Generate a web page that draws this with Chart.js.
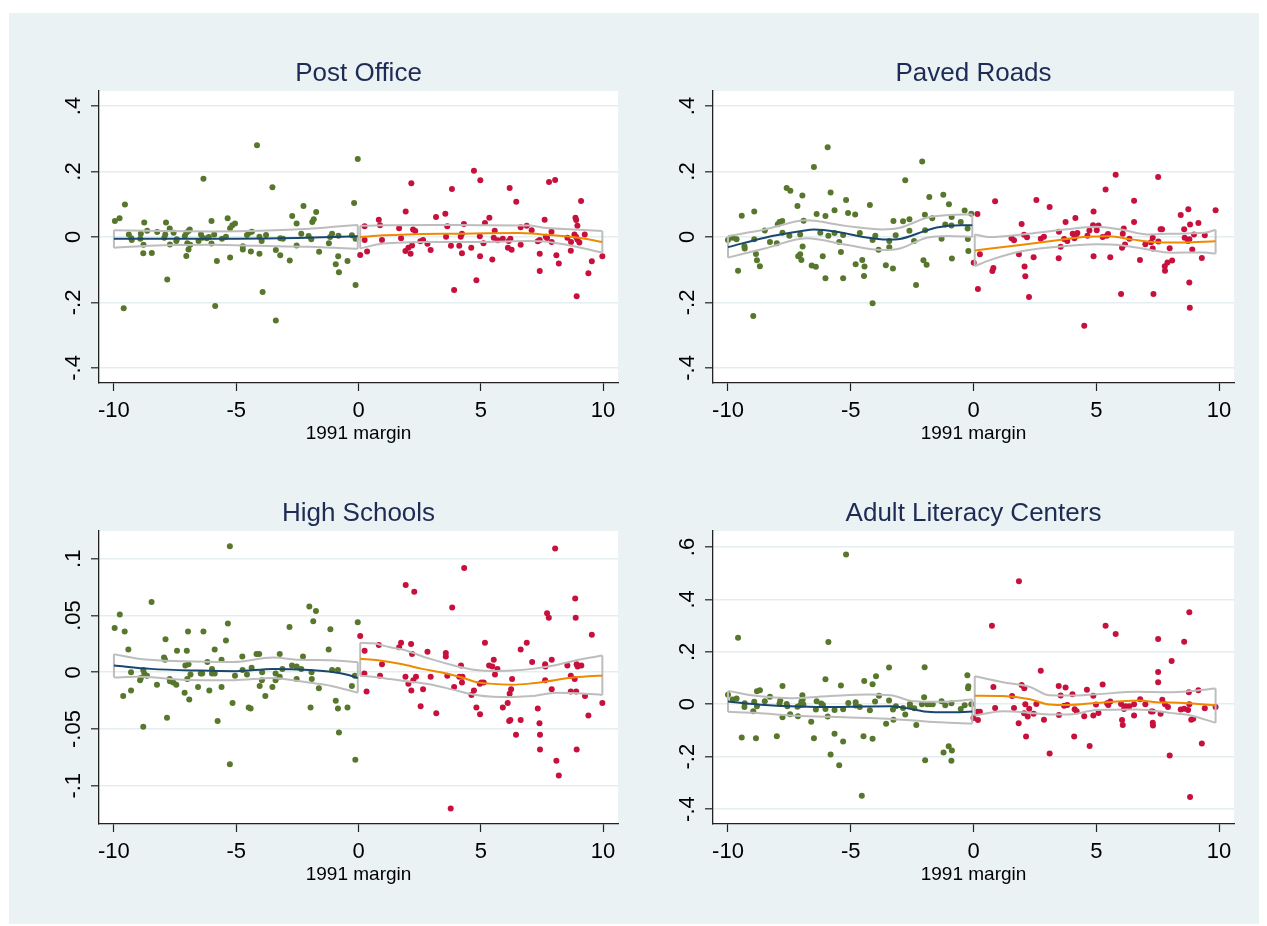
<!DOCTYPE html>
<html>
<head>
<meta charset="utf-8">
<script src="https://cdn.jsdelivr.net/npm/chart.js@4"></script>
<style>
  body { margin: 0; background: #fff; width: 1267px; height: 926px; position: relative; overflow: hidden; }
  #bg { position: absolute; left: 9px; top: 13px; width: 1250px; height: 911px; background: #eaf2f3; }
  canvas { position: absolute; }
</style>
</head>
<body>
<div id="bg"></div>
<canvas id="c1" width="620" height="420" style="left:20px;top:40px"></canvas>
<canvas id="c2" width="620" height="420" style="left:634px;top:40px"></canvas>
<canvas id="c3" width="620" height="420" style="left:20px;top:480px"></canvas>
<canvas id="c4" width="620" height="420" style="left:634px;top:480px"></canvas>
<script>
// x ticks shared by all panels
const xTicks = [-10, -5, 0, 5, 10];

// ---- Post Office ----
const postLeft = [[-9.96,0.049],[-9.77,0.057],[-9.55,0.099],[-9.6,-0.218],[-9.39,0.008],[-9.29,-0.004],[-9.27,-0.009],[-8.9,0.010],[-8.92,-0.005],[-8.79,-0.024],[-8.76,0.044],[-8.8,-0.05],[-8.64,0.019],[-8.45,-0.049],[-8.23,0.015],[-7.94,-0.002],[-7.87,0.044],[-7.9,0.008],[-7.72,0.026],[-7.82,-0.13],[-7.71,-0.023],[-7.56,0.013],[-7.43,-0.007],[-7.45,-0.012],[-7.1,0.003],[-7.04,0.013],[-6.95,0.018],[-6.9,0.023],[-7.0,-0.019],[-6.88,-0.024],[-6.95,-0.038],[-7.04,-0.058],[-6.54,-0.012],[-6.44,0.008],[-6.38,-0.002],[-6.34,0.178],[-6.2,-0.004],[-6.12,0.0],[-6.01,0.049],[-6.01,-0.02],[-5.9,0.008],[-5.79,-0.073],[-5.86,-0.211],[-5.58,-0.005],[-5.42,0.001],[-5.35,0.057],[-5.25,0.027],[-5.16,0.036],[-5.05,0.041],[-5.25,-0.063],[-4.73,-0.028],[-4.73,-0.038],[-4.56,0.006],[-4.46,0.013],[-4.36,0.016],[-4.4,-0.044],[-4.15,0.28],[-4.05,0.001],[-3.96,-0.012],[-4.05,-0.051],[-3.92,-0.168],[-3.78,0.006],[-3.52,0.152],[-3.38,-0.04],[-3.38,-0.255],[-3.2,-0.056],[-3.2,-0.004],[-3.09,-0.005],[-2.81,-0.072],[-2.71,0.064],[-2.53,0.041],[-2.53,-0.026],[-2.34,0.01],[-2.25,0.095],[-2.04,0.003],[-1.93,-0.007],[-1.89,0.046],[-1.83,0.054],[-1.73,0.076],[-1.61,-0.045],[-1.21,-0.019],[-1.16,0.0],[-1.08,0.01],[-0.82,0.004],[-0.83,-0.059],[-0.93,-0.083],[-0.8,-0.108],[-0.45,-0.073],[-0.27,0.005],[-0.18,0.104],[-0.12,-0.005],[-0.12,-0.147],[-0.03,0.238]];
const postRight = [[0.07,-0.055],[0.25,0.033],[0.25,-0.009],[0.35,-0.044],[0.83,0.053],[0.88,0.036],[0.96,-0.009],[1.66,0.027],[1.74,-0.004],[1.93,0.078],[1.92,-0.043],[2.04,-0.033],[2.13,-0.051],[2.19,-0.026],[2.16,0.164],[2.23,0.023],[2.32,0.018],[2.53,-0.013],[2.64,-0.009],[2.82,-0.021],[2.95,-0.04],[3.17,0.061],[3.55,0.071],[3.58,0.001],[3.63,0.033],[3.78,-0.027],[3.82,0.147],[3.91,-0.162],[4.12,-0.027],[4.18,0.001],[4.23,0.01],[4.23,-0.05],[4.31,0.04],[4.61,-0.033],[4.72,0.202],[4.82,-0.132],[4.96,0.002],[4.97,-0.059],[4.98,0.173],[5.11,-0.019],[5.17,0.043],[5.35,0.059],[5.47,-0.069],[5.53,-0.002],[5.57,0.019],[5.69,-0.01],[5.9,-0.005],[6.11,-0.033],[6.14,-0.012],[6.18,0.15],[6.21,-0.005],[6.26,-0.039],[6.45,0.108],[6.63,0.03],[6.63,-0.024],[6.88,0.034],[7.08,0.021],[7.33,-0.013],[7.41,-0.009],[7.41,-0.051],[7.41,-0.104],[7.61,0.053],[7.66,0.001],[7.71,-0.003],[7.79,0.168],[7.89,0.016],[7.9,-0.015],[8.04,0.174],[8.09,-0.056],[8.19,-0.081],[8.54,-0.002],[8.68,-0.042],[8.69,-0.015],[8.83,0.008],[8.87,0.059],[8.9,0.052],[8.95,0.034],[8.9,0.0],[8.95,-0.008],[9.03,-0.017],[8.92,-0.181],[9.1,0.11],[9.25,0.008],[9.4,-0.111],[9.54,-0.074],[9.97,-0.059]];
const postFitL = [[-10,-0.005],[-7.5,-0.005],[-5,-0.005],[-2.5,-0.003],[-1,0.0],[-0.03,0.002]];
const postFitR = [[0.07,0.0],[1,0.005],[2,0.008],[4,0.01],[6.5,0.012],[7.5,0.008],[9,-0.002],[9.97,-0.015]];
// band rows: [x, lower, upper]
const postBandL = [[-10,-0.033,0.021],[-8,-0.025,0.018],[-6,-0.024,0.017],[-4,-0.027,0.019],[-2,-0.030,0.025],[-1,-0.033,0.031],[-0.03,-0.036,0.037]];
const postBandR = [[0.07,-0.035,0.034],[1,-0.02,0.036],[3,-0.015,0.037],[5,-0.015,0.036],[7,-0.012,0.035],[7.5,-0.013,0.029],[8.8,-0.028,0.023],[9.97,-0.048,0.018]];

// ---- Paved Roads ----
const pavedLeft = [[-10.0,-0.009],[-9.81,-0.002],[-9.65,-0.007],[-9.59,-0.103],[-9.44,0.065],[-9.33,-0.028],[-9.32,-0.035],[-8.97,-0.241],[-8.93,0.078],[-8.93,-0.007],[-8.86,-0.052],[-8.82,-0.071],[-8.7,-0.089],[-8.5,0.02],[-8.29,-0.015],[-8.01,-0.019],[-7.97,0.039],[-7.9,0.046],[-7.79,0.049],[-7.78,0.013],[-7.61,0.15],[-7.46,0.141],[-7.5,0.004],[-7.17,0.095],[-7.14,-0.059],[-7.06,-0.053],[-7.01,-0.07],[-7.06,0.008],[-6.97,0.127],[-6.96,-0.029],[-6.92,0.05],[-6.59,-0.087],[-6.42,-0.091],[-6.5,0.214],[-6.39,0.07],[-6.24,0.013],[-6.14,-0.059],[-6.03,0.064],[-6.03,-0.126],[-5.94,0.274],[-5.91,0.004],[-5.82,0.136],[-5.66,0.082],[-5.66,0.012],[-5.47,-0.015],[-5.4,-0.046],[-5.31,-0.126],[-5.31,0.006],[-5.19,0.113],[-5.11,0.073],[-4.82,0.069],[-4.8,-0.083],[-4.63,0.012],[-4.53,-0.07],[-4.44,-0.09],[-4.46,-0.119],[-4.22,0.098],[-4.11,-0.202],[-4.11,-0.009],[-4.0,0.004],[-3.87,-0.039],[-3.57,-0.086],[-3.43,-0.012],[-3.43,-0.031],[-3.28,-0.096],[-3.26,0.049],[-3.17,0.005],[-2.87,0.048],[-2.78,0.173],[-2.61,0.054],[-2.61,0.019],[-2.42,-0.012],[-2.34,-0.147],[-2.09,0.231],[-2.04,-0.071],[-1.97,0.021],[-1.98,0.068],[-1.91,-0.085],[-1.8,0.122],[-1.68,0.057],[-1.3,-0.005],[-1.23,0.129],[-1.15,0.038],[-1.0,0.1],[-0.89,0.061],[-0.9,0.035],[-0.88,-0.066],[-0.52,0.046],[-0.36,0.081],[-0.24,0.026],[-0.23,-0.006],[-0.21,-0.043],[-0.09,0.071]];
const pavedRight = [[0.01,-0.079],[0.16,0.07],[0.18,-0.159],[0.26,-0.053],[0.77,-0.104],[0.81,-0.095],[0.88,0.109],[1.55,-0.004],[1.65,-0.01],[1.85,-0.053],[1.96,0.04],[2.06,0.007],[2.08,-0.09],[2.11,-0.12],[2.18,-0.001],[2.26,-0.183],[2.45,-0.062],[2.56,0.113],[2.74,-0.005],[2.87,0.001],[3.1,0.092],[3.47,-0.065],[3.48,0.016],[3.55,-0.03],[3.69,-0.006],[3.75,0.046],[3.82,-0.012],[4.04,0.01],[4.11,-0.004],[4.15,0.058],[4.17,0.005],[4.23,0.012],[4.51,-0.271],[4.64,0.004],[4.72,0.02],[4.87,0.036],[4.89,0.078],[4.89,-0.059],[5.02,0.021],[5.09,0.035],[5.26,0.0],[5.38,0.145],[5.43,0.004],[5.48,0.009],[5.57,-0.062],[5.79,0.19],[6.01,-0.174],[6.05,-0.033],[6.08,0.01],[6.12,0.026],[6.17,-0.023],[6.35,-0.005],[6.54,0.046],[6.54,0.111],[6.78,-0.07],[7.0,-0.022],[7.23,-0.016],[7.3,-0.002],[7.3,-0.035],[7.33,-0.174],[7.52,0.183],[7.53,-0.014],[7.62,0.024],[7.68,0.024],[7.79,-0.089],[7.8,-0.103],[7.9,-0.078],[7.99,-0.034],[8.09,-0.072],[8.44,0.067],[8.58,0.024],[8.6,-0.002],[8.74,-0.012],[8.75,0.085],[8.79,-0.139],[8.81,-0.216],[8.82,0.038],[8.79,-0.007],[8.91,-0.038],[8.98,0.008],[9.16,0.043],[9.3,-0.064],[9.42,0.005],[9.86,0.082]];
const pavedFitL = [[-10,-0.031],[-8.5,-0.002],[-7,0.018],[-6.5,0.023],[-5.5,0.015],[-4.5,0.0],[-3.5,-0.008],[-3,-0.006],[-2,0.018],[-1.5,0.029],[-0.5,0.036],[-0.05,0.036]];
const pavedFitR = [[0.05,-0.041],[2,-0.024],[3.5,-0.009],[4.5,0.0],[5.5,0.002],[6.5,-0.008],[7.5,-0.016],[8.5,-0.017],[9.86,-0.013]];
const pavedBandL = [[-10,-0.063,0.003],[-8.5,-0.035,0.023],[-6.8,-0.004,0.051],[-5.2,-0.024,0.034],[-3.7,-0.04,0.023],[-3.0,-0.035,0.028],[-1.9,-0.002,0.059],[-1.0,0.003,0.067],[-0.05,0.0,0.069]];
const pavedBandR = [[0.05,-0.089,0.008],[0.7,-0.07,0.0],[2,-0.043,0.008],[3.7,-0.028,0.023],[5,-0.022,0.031],[6,-0.025,0.023],[7.1,-0.038,0.008],[8,-0.048,0.01],[9.4,-0.047,0.013],[9.86,-0.051,0.022]];

// ---- High Schools ----
const hsLeft = [[-9.97,0.039],[-9.76,0.051],[-9.56,0.036],[-9.62,-0.021],[-9.41,0.02],[-9.3,-0.016],[-9.3,0.0],[-8.93,-0.007],[-8.9,-0.005],[-8.8,-0.048],[-8.8,0.002],[-8.76,-0.001],[-8.65,-0.003],[-8.46,0.062],[-8.24,-0.011],[-7.95,0.013],[-7.91,0.011],[-7.89,0.029],[-7.83,-0.04],[-7.72,-0.006],[-7.71,-0.008],[-7.57,-0.009],[-7.45,-0.011],[-7.42,0.019],[-7.11,-0.018],[-7.08,0.006],[-7.02,0.019],[-7.0,-0.006],[-6.97,0.036],[-6.95,0.007],[-6.92,-0.024],[-6.87,-0.002],[-6.56,-0.013],[-6.45,-0.001],[-6.39,-0.001],[-6.34,0.036],[-6.18,0.009],[-6.1,-0.016],[-5.99,0.003],[-5.99,-0.001],[-5.88,0.02],[-5.88,-0.001],[-5.76,-0.043],[-5.6,0.011],[-5.6,-0.013],[-5.42,0.028],[-5.34,0.043],[-5.26,0.111],[-5.26,-0.081],[-5.15,-0.027],[-5.05,-0.003],[-4.75,0.014],[-4.74,0.002],[-4.56,-0.002],[-4.49,-0.031],[-4.41,-0.032],[-4.37,0.004],[-4.17,0.016],[-4.06,0.016],[-3.94,0.0],[-3.95,-0.007],[-4.04,-0.012],[-3.81,-0.021],[-3.52,-0.013],[-3.39,-0.001],[-3.39,-0.007],[-3.22,0.016],[-3.22,-0.004],[-3.11,0.003],[-2.82,0.04],[-2.72,0.006],[-2.53,0.005],[-2.53,-0.006],[-2.34,0.003],[-2.27,0.014],[-2.01,0.058],[-1.96,-0.031],[-1.92,0.0],[-1.91,-0.006],[-1.85,0.045],[-1.74,0.054],[-1.62,-0.014],[-1.22,0.02],[-1.15,0.038],[-1.08,0.002],[-0.93,-0.025],[-0.84,0.002],[-0.84,-0.032],[-0.8,-0.053],[-0.45,-0.031],[-0.27,-0.012],[-0.15,-0.003],[-0.13,-0.077],[-0.03,0.044]];
const hsRight = [[0.07,0.032],[0.25,0.019],[0.24,-0.001],[0.33,-0.017],[0.83,0.024],[0.88,-0.003],[0.96,0.007],[1.66,0.022],[1.74,0.026],[1.93,0.077],[1.92,-0.004],[2.04,-0.01],[2.15,0.025],[2.19,0.016],[2.16,-0.016],[2.24,-0.007],[2.28,0.071],[2.35,-0.004],[2.54,-0.03],[2.64,-0.015],[2.82,0.018],[2.95,-0.004],[3.18,-0.036],[3.57,0.017],[3.57,0.014],[3.63,-0.003],[3.83,0.057],[3.91,-0.013],[3.77,-0.12],[4.19,0.006],[4.12,-0.004],[4.25,-0.004],[4.23,-0.009],[4.32,0.092],[4.62,-0.02],[4.72,-0.016],[4.82,-0.031],[4.97,-0.037],[4.96,-0.01],[5.02,-0.009],[5.12,-0.009],[5.17,0.026],[5.34,0.006],[5.47,0.005],[5.53,0.011],[5.58,-0.002],[5.68,0.003],[5.9,-0.031],[6.1,-0.027],[6.16,-0.043],[6.21,-0.042],[6.18,-0.019],[6.24,-0.015],[6.28,-0.006],[6.44,-0.055],[6.63,0.02],[6.63,-0.042],[6.88,0.026],[7.1,0.009],[7.33,-0.032],[7.4,-0.045],[7.42,-0.055],[7.42,-0.068],[7.63,0.007],[7.64,0.005],[7.63,-0.007],[7.71,0.052],[7.78,0.048],[7.9,0.011],[7.9,-0.015],[8.04,0.109],[8.09,-0.078],[8.19,-0.091],[8.54,0.006],[8.68,-0.003],[8.68,-0.017],[8.84,-0.006],[8.86,0.065],[8.88,0.048],[8.9,-0.017],[8.92,-0.068],[8.92,0.007],[8.96,0.005],[9.11,0.006],[9.26,-0.021],[9.4,-0.038],[9.54,0.033],[9.97,-0.027]];
const hsFitL = [[-10,0.006],[-8.5,0.003],[-6.5,0.0015],[-5,0.001],[-3.5,0.003],[-2,0.002],[-1,0.0],[-0.5,-0.002],[-0.03,-0.005]];
const hsFitR = [[0.07,0.012],[0.8,0.0106],[1.8,0.007],[2.6,0.003],[3.5,-0.0006],[4.3,-0.005],[4.8,-0.0085],[5.35,-0.01],[6.3,-0.011],[7,-0.01],[7.7,-0.008],[8.6,-0.005],[9.4,-0.0035],[9.97,-0.003]];
const hsBandL = [[-10,-0.0045,0.016],[-9,-0.004,0.012],[-7.2,-0.0065,0.0097],[-5.1,-0.007,0.009],[-3.5,-0.005,0.013],[-2.4,-0.008,0.011],[-1.1,-0.012,0.0106],[-0.03,-0.018,0.009]];
const hsBandR = [[0.07,-0.003,0.026],[0.6,-0.004,0.0255],[1.3,-0.006,0.022],[1.8,-0.0075,0.02],[2.9,-0.0105,0.012],[3.9,-0.0155,0.006],[4.8,-0.02,0.002],[5.5,-0.0215,0.0012],[6.3,-0.0217,0.0015],[7.1,-0.021,0.003],[8.1,-0.018,0.0065],[9,-0.0185,0.011],[9.97,-0.02,0.0147]];

// ---- Adult Literacy Centers ----
const litLeft = [[-10.0,0.036],[-9.81,0.018],[-9.65,0.022],[-9.59,0.254],[-9.44,-0.127],[-9.33,-0.011],[-9.32,0.004],[-8.97,-0.027],[-8.93,0.009],[-8.86,-0.13],[-8.82,-0.008],[-8.82,0.05],[-8.7,0.053],[-8.5,0.011],[-8.29,0.029],[-8.01,-0.122],[-7.9,0.003],[-7.87,0.014],[-7.78,0.07],[-7.78,-0.05],[-7.61,0.001],[-7.58,-0.008],[-7.47,-0.038],[-7.17,-0.01],[-7.15,-0.046],[-7.06,-0.004],[-7.01,0.009],[-6.97,0.034],[-6.96,0.018],[-6.93,-0.001],[-6.61,-0.067],[-6.5,-0.13],[-6.42,-0.02],[-6.39,0.011],[-6.2,0.003],[-6.13,-0.003],[-6.03,0.095],[-6.03,-0.018],[-5.94,-0.047],[-5.91,0.237],[-5.82,-0.192],[-5.66,-0.113],[-5.66,-0.022],[-5.47,-0.233],[-5.4,0.071],[-5.31,-0.142],[-5.31,-0.019],[-5.19,0.571],[-5.1,0.005],[-4.8,0.008],[-4.79,-0.005],[-4.63,-0.011],[-4.55,-0.349],[-4.48,-0.122],[-4.45,0.089],[-4.22,-0.023],[-4.11,-0.132],[-4.11,0.076],[-4.01,0.01],[-3.97,0.107],[-3.85,0.032],[-3.56,-0.074],[-3.44,0.14],[-3.44,0.014],[-3.28,-0.02],[-3.26,-0.059],[-3.16,-0.008],[-2.87,-0.014],[-2.78,-0.039],[-2.59,0.001],[-2.59,-0.008],[-2.41,-0.015],[-2.33,-0.079],[-2.1,0.0],[-2.01,0.027],[-1.99,0.141],[-1.97,-0.214],[-1.88,0.0],[-1.77,0.0],[-1.66,0.0],[-1.3,0.011],[-1.22,-0.184],[-1.15,-0.004],[-1.01,-0.16],[-0.9,0.004],[-0.88,-0.177],[-0.9,-0.216],[-0.52,-0.018],[-0.36,-0.004],[-0.25,0.111],[-0.22,0.061],[-0.21,0.069],[-0.09,0.0]];
const litRight = [[0.0,-0.053],[0.16,-0.029],[0.18,-0.06],[0.26,-0.029],[0.75,0.299],[0.81,0.066],[0.88,-0.014],[1.57,0.031],[1.65,-0.014],[1.84,-0.073],[1.85,0.469],[1.96,0.073],[2.07,0.061],[2.11,0.0],[2.06,-0.034],[2.14,-0.123],[2.21,-0.047],[2.27,-0.017],[2.45,-0.036],[2.56,0.001],[2.74,0.128],[2.87,-0.059],[3.1,-0.188],[3.47,0.07],[3.48,-0.041],[3.55,0.033],[3.69,-0.006],[3.75,0.064],[3.82,-0.003],[4.03,0.038],[4.1,-0.123],[4.12,-0.019],[4.2,-0.027],[4.51,-0.046],[4.62,0.055],[4.73,-0.159],[4.88,0.032],[4.88,-0.043],[4.99,-0.001],[5.09,-0.033],[5.26,0.075],[5.38,0.299],[5.44,0.004],[5.49,-0.003],[5.57,0.01],[5.79,0.268],[6.01,0.001],[6.05,-0.06],[6.08,-0.079],[6.13,-0.018],[6.2,-0.008],[6.35,-0.008],[6.54,0.0],[6.54,-0.043],[6.79,0.019],[7.0,0.0],[7.23,-0.028],[7.3,-0.028],[7.3,-0.071],[7.31,-0.081],[7.52,0.249],[7.52,0.123],[7.52,0.084],[7.62,-0.036],[7.69,0.017],[7.8,0.0],[7.92,-0.011],[7.99,-0.196],[8.07,0.165],[8.44,-0.02],[8.58,-0.017],[8.58,0.238],[8.74,-0.022],[8.77,0.046],[8.79,0.0],[8.79,0.351],[8.82,-0.354],[8.87,-0.059],[8.95,-0.055],[9.16,0.053],[9.3,-0.15],[9.42,-0.015],[9.86,-0.011]];
const litFitL = [[-10,0.01],[-8.8,-0.001],[-7.45,-0.008],[-6.1,-0.011],[-4.46,-0.009],[-3.37,-0.008],[-2.42,-0.02],[-1.88,-0.029],[-1.07,-0.031],[-0.05,-0.028]];
const litFitR = [[0.05,0.032],[1.2,0.031],[2.3,0.019],[3.1,-0.001],[3.9,-0.003],[5,0.005],[6.78,0.014],[7.46,0.008],[8.55,0.005],[9.86,-0.005]];
const litBandL = [[-10,-0.029,0.051],[-8.8,-0.033,0.031],[-7.45,-0.043,0.023],[-5.82,-0.048,0.031],[-4.32,-0.053,0.037],[-3.37,-0.056,0.034],[-2.42,-0.062,0.011],[-1.33,-0.069,0.009],[-0.05,-0.074,0.018]];
const litBandR = [[0.05,-0.043,0.107],[1.2,-0.027,0.084],[2.3,-0.033,0.066],[3.1,-0.039,0.034],[3.9,-0.039,0.033],[5,-0.022,0.038],[6.65,-0.02,0.048],[8,-0.033,0.046],[8.8,-0.042,0.05],[9.86,-0.071,0.06]];

const GREEN = '#56772c';
const RED = '#c8103c';
const BLUE = '#1a476f';
const ORANGE = '#ee8a00';
const GRAY = '#bdbdbd';
const FONT = "'Liberation Sans', Arial, Helvetica, sans-serif";

const panels = [
  { id: 'c1', title: 'Post Office', pts: [postLeft, postRight], fit: [postFitL, postFitR], band: [postBandL, postBandR],
    yMin: -0.446, yMax: 0.446, yTicks: [-0.4, -0.2, 0, 0.2, 0.4], pos: [20, 40], area: [99, 91, 618, 383] },
  { id: 'c2', title: 'Paved Roads', pts: [pavedLeft, pavedRight], fit: [pavedFitL, pavedFitR], band: [pavedBandL, pavedBandR],
    yMin: -0.446, yMax: 0.446, yTicks: [-0.4, -0.2, 0, 0.2, 0.4], pos: [634, 40], area: [713, 91, 1234, 383] },
  { id: 'c3', title: 'High Schools', pts: [hsLeft, hsRight], fit: [hsFitL, hsFitR], band: [hsBandL, hsBandR],
    yMin: -0.1337, yMax: 0.1245, yTicks: [-0.1, -0.05, 0, 0.05, 0.1], pos: [20, 480], area: [99, 531, 618, 824] },
  { id: 'c4', title: 'Adult Literacy Centers', pts: [litLeft, litRight], fit: [litFitL, litFitR], band: [litBandL, litBandR],
    yMin: -0.457, yMax: 0.661, yTicks: [-0.4, -0.2, 0, 0.2, 0.4, 0.6], pos: [634, 480], area: [713, 531, 1234, 824] },
];

function fmtTick(v) {
  if (v === 0) return '0';
  return (v < 0 ? '-' : '') + String(Math.abs(v)).replace(/^0/, '');
}

const plotBg = {
  id: 'plotBg',
  beforeDraw(chart) {
    const a = chart.chartArea, ctx = chart.ctx;
    ctx.save();
    ctx.fillStyle = '#fff';
    ctx.fillRect(a.left, a.top, a.right - a.left, a.bottom - a.top);
    ctx.restore();
  }
};

// y tick labels, rotated like the original
const yLabels = {
  id: 'yLabels',
  afterDraw(chart) {
    const y = chart.scales.y, ctx = chart.ctx;
    ctx.save();
    ctx.font = '22px ' + FONT;
    ctx.fillStyle = '#000';
    ctx.textAlign = 'center';
    ctx.textBaseline = 'alphabetic';
    y.ticks.forEach(t => {
      const py = y.getPixelForValue(t.value);
      ctx.save();
      ctx.translate(chart.chartArea.left - 19, py);
      ctx.rotate(-Math.PI / 2);
      ctx.fillText(fmtTick(t.value), 0, 0);
      ctx.restore();
    });
    ctx.restore();
  }
};

function toXY(rows) { return rows.map(r => ({ x: r[0], y: r[1] })); }

function lineSet(data, color, order) {
  return { data, showLine: true, borderColor: color, borderWidth: 2, pointRadius: 0,
           cubicInterpolationMode: 'monotone', order };
}

panels.forEach(p => {
  const W = 620, H = 420, Y_W = 50, X_H = 64;
  const L = p.area[0] - p.pos[0], T = p.area[1] - p.pos[1];
  const R = p.area[2] - p.pos[0], B = p.area[3] - p.pos[1];

  const datasets = [
    { data: toXY(p.pts[0]), backgroundColor: GREEN, pointRadius: 3, borderWidth: 0, order: 3 },
    { data: toXY(p.pts[1]), backgroundColor: RED, pointRadius: 3, borderWidth: 0, order: 3 },
    lineSet(toXY(p.fit[0]), BLUE, 1),
    lineSet(toXY(p.fit[1]), ORANGE, 1),
  ];
  p.band.forEach(b => {
    datasets.push(lineSet(b.map(r => ({ x: r[0], y: r[2] })), GRAY, 2));
    datasets.push(lineSet(b.map(r => ({ x: r[0], y: r[1] })), GRAY, 2));
    const first = b[0], last = b[b.length - 1];
    datasets.push(lineSet([{ x: first[0], y: first[1] }, { x: first[0], y: first[2] }], GRAY, 2));
    datasets.push(lineSet([{ x: last[0], y: last[1] }, { x: last[0], y: last[2] }], GRAY, 2));
  });

  new Chart(document.getElementById(p.id), {
    type: 'scatter',
    data: { datasets },
    plugins: [plotBg, yLabels],
    options: {
      responsive: false,
      animation: false,
      events: [],
      layout: { padding: { left: L - Y_W, right: W - R, top: 0, bottom: H - B - X_H } },
      plugins: {
        legend: { display: false },
        tooltip: { enabled: false },
        title: {
          display: true, fullSize: false, text: p.title, color: '#1d2b55',
          font: { family: FONT, size: 26, weight: 'normal' },
          padding: { top: T - 32.6, bottom: 1.4 }
        }
      },
      scales: {
        x: {
          type: 'linear', min: -10.61, max: 10.61,
          afterBuildTicks: s => { s.ticks = xTicks.map(v => ({ value: v })); },
          afterFit: s => { s.height = X_H; },
          ticks: { color: '#000', font: { family: FONT, size: 22 }, padding: 7, maxRotation: 0 },
          grid: { drawOnChartArea: false, drawTicks: true, tickLength: 8, tickColor: '#222', tickWidth: 1.2 },
          border: { display: true, color: '#222', width: 1.3 },
          title: { display: true, text: '1991 margin', color: '#000',
                   font: { family: FONT, size: 19 }, padding: { top: 0, bottom: 2 } }
        },
        y: {
          type: 'linear', min: p.yMin, max: p.yMax,
          afterBuildTicks: s => { s.ticks = p.yTicks.map(v => ({ value: v })); },
          afterFit: s => { s.width = Y_W; },
          ticks: { display: false },
          grid: { color: '#e4edf0', lineWidth: 1.6, drawTicks: true, tickLength: 8, tickColor: '#222', tickWidth: 1.2 },
          border: { display: true, color: '#222', width: 1.3 }
        }
      }
    }
  });
});
</script>
</body>
</html>
